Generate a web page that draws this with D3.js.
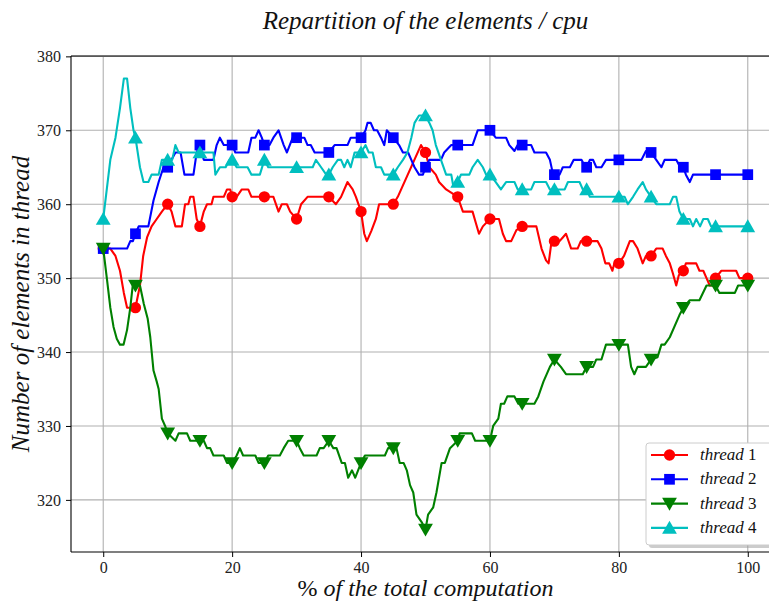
<!DOCTYPE html>
<html lang="en">
<head>
<meta charset="UTF-8">
<title>Repartition of the elements / cpu</title>
<style>
  body { margin: 0; background: #fff; }
  svg { display: block; font-family: "Liberation Serif", "DejaVu Serif", serif; }
  svg text { font-family: "Liberation Serif", "DejaVu Serif", serif; }
</style>
</head>
<body>
<svg width="769" height="602" id="svg"></svg>
<script src="https://d3js.org/d3.v7.min.js"></script>
<script>
// thread 1 (red, circles)
const t1x = [0, 1.1, 1.9, 2.6, 3.2, 3.7, 4.4, 5, 5.7, 6.2, 6.8, 7.5, 8.3, 9.1, 10, 10.6, 11.2, 12.2, 12.7, 13.2, 13.5, 14, 14.5, 15,
  15.6, 16.1, 16.8, 17.1, 18.7, 19.2, 19.7, 20, 20.7, 21.5, 22.5, 23, 24.3, 25, 26.4, 27.2, 27.7, 28.5, 29, 30,
  30.7, 31.7, 34.1, 35, 36.1, 36.9, 37.9, 38.7, 39.2, 40, 40.5, 40.9, 41.6, 42.3, 42.8, 44.4, 45, 45.7, 49.3, 50,
  50.6, 51.6, 52.1, 53.2, 55, 55.8, 57.3, 57.8, 58.3, 58.9, 60, 61.4, 62, 62.5, 63.3, 64.1, 65, 67.2, 68, 68.7, 69.1, 69.5, 70,
  70.8, 71.3, 71.8, 72.6, 73.6, 74.1, 75, 76.7, 77.3, 77.9, 78.5, 79, 79.3, 80, 80.8, 81.7, 82.2, 82.9, 83.7, 84.2, 85,
  85.8, 86.8, 87.3, 87.9, 88.4, 88.9, 89.3, 90, 90.4, 92, 92.5, 93.1, 93.6, 94.1, 94.6, 95, 95.9, 98.2, 98.7, 100];
const t1y = [354, 354, 353, 351, 348, 346, 346, 346, 349, 353, 355.5, 357, 358, 359, 360, 359, 357, 357, 360, 360, 361, 361, 358, 357,
  359, 360, 360, 361, 361, 362, 362, 361, 361, 362, 362, 361, 361, 361, 361, 359, 360, 360, 359, 358,
  360, 361, 361, 361, 360, 361, 363, 362, 361, 359, 356, 355, 356.4, 358, 360, 360, 360, 361, 368, 367,
  365, 364, 363, 362, 361, 359, 359, 357.5, 356, 357, 358, 358, 356, 355, 355, 356.5, 357, 357, 354, 352.4, 352, 354.6, 355,
  355, 355.5, 356, 354, 354, 355, 355, 355, 354, 352, 352, 351, 352, 352, 353, 355, 355, 354, 352, 353, 353,
  354, 354, 353, 352, 350.6, 349, 350.4, 351, 352, 352, 351, 351, 350, 349, 349, 350, 351, 351, 350, 350];

// thread 2 (blue, squares)
const t2x = [0, 3.7, 4.2, 4.6, 5, 5.5, 7, 7.8, 8.6, 9.35, 10, 10.6, 11.2, 12, 12.6, 14, 14.5, 15, 15.6, 17.1, 17.6, 18.1, 18.7, 20,
  20.5, 22.5, 23, 23.6, 24.1, 24.6, 25, 25.8, 26.4, 27.2, 28, 28.5, 29.4, 30, 31.2, 31.7, 32.2, 32.8, 34.4, 35,
  35.9, 37.9, 38.4, 40, 40.7, 41, 41.5, 42, 42.5, 43.1, 43.6, 44, 45, 45.9, 46.5, 47.3, 47.8, 48.3, 49, 49.6, 50,
  50.6, 52.4, 52.9, 54, 55, 57.3, 58.1, 60, 60.9, 62.5, 63, 63.8, 64.3, 65, 66.4, 66.9, 68.7, 69.3, 69.8, 70,
  70.8, 71.3, 72.4, 73, 74.2, 74.7, 75, 75.5, 76, 76.5, 77.3, 78, 80, 83.5, 84.2, 85, 85.8, 86.6, 87.1, 88.9, 89.4, 90,
  90.4, 91, 91.5, 95, 100];
const t2y = [354, 354, 355, 355, 356, 357, 357, 360.5, 363, 365, 365, 366, 367, 367, 364, 364, 367, 368, 366, 366, 368, 369, 368, 368,
  367, 367, 369, 369, 370, 369, 368, 368, 369, 370, 368, 367, 369, 369, 369, 368, 368, 367, 367, 367,
  368, 368, 369, 369, 370, 371, 371, 370, 370, 369, 368, 370, 369, 368, 367, 367, 366, 365, 364, 364, 365,
  366, 366, 367, 368, 368, 368, 370, 370, 369, 369, 368, 367.2, 368, 368, 368, 367, 367, 366, 364, 364,
  364, 365, 365, 366, 366, 365.2, 365, 366, 366, 365, 365, 366, 366, 366, 367.2, 367, 366, 365, 366, 366, 365.2, 365,
  364, 363, 364, 364, 364];

// thread 3 (green, down triangles)
const t3x = [0, 0.6, 1.1, 1.6, 2.1, 2.6, 3.15, 3.7, 4.2, 4.6, 5, 5.7, 6.3, 6.9, 7.3, 7.8, 8.3, 8.6, 9.1, 9.6, 10, 10.6, 11.2, 11.7,
  13, 13.5, 15, 15.6, 16.1, 16.6, 17.1, 18.7, 19.2, 20, 20.7, 21.2, 21.7, 23.6, 24.1, 25, 25.6, 27.4, 28, 28.7, 30,
  30.5, 31.1, 33.1, 33.6, 34.2, 35, 35.7, 36.2, 37, 37.5, 38, 38.6, 39.1, 40, 40.6, 43.7, 44.2, 45, 45.5, 46, 46.6,
  47.1, 47.6, 48.1, 48.6, 49.4, 50, 50.4, 51.2, 51.7, 52.5, 53, 53.8, 55, 55.3, 57.2, 57.7, 60, 60.5, 61.3, 61.7,
  62.2, 62.7, 63.8, 64.4, 65, 66.9, 67.5, 68.3, 69.3, 70, 71, 71.8, 74.4, 75, 76, 76.5, 77.3, 78, 80, 81.4, 81.9,
  82.4, 82.9, 84.2, 85, 86, 86.6, 87.1, 87.9, 89.4, 90, 91, 92.5, 93.6, 95, 95.6, 98, 98.5, 100];
const t3y = [354, 349.7, 346, 343.4, 341.8, 341, 341, 343, 346, 349.2, 349, 349, 346.5, 344.5, 342, 337.5, 336, 335, 331, 330, 329, 328.5, 328, 329,
  329, 328, 328, 328, 327, 327, 326, 326, 325, 325, 326, 327, 326, 326, 325, 325, 326, 326, 327, 328, 328,
  327, 326, 326, 327, 327, 328, 327, 327, 325, 325, 323, 324, 323, 325, 326, 326, 327, 327, 327, 325, 325,
  324, 322, 321, 318, 317, 316, 318, 319, 321, 325, 325, 327, 328, 329, 329, 328, 328, 330, 331, 333,
  333, 334, 334, 333, 333, 333, 334, 336, 338, 339, 338, 337, 337, 338, 338, 339, 339, 341, 341, 341, 338,
  337, 338, 338, 339, 339.3, 341, 341, 342, 345, 346, 347, 347, 349, 349, 348, 348, 349, 349];

// thread 4 (cyan, up triangles)
const t4x = [0, 1.1, 1.9, 2.6, 3.2, 3.7, 4.2, 4.7, 5, 5.7, 6.25, 7, 7.5, 8.6, 9.1, 10, 10.7, 11.2, 11.7, 15, 17.1, 17.4, 18.1, 19, 19.6, 20,
  20.7, 22.4, 23, 24.3, 25, 25.6, 29.5, 30, 32.5, 33, 33.8, 34.6, 35, 35.6, 36.4, 36.9, 37.4, 37.9, 38.4, 39, 40,
  40.7, 41.2, 41.8, 42.3, 43.1, 43.6, 45, 45.7, 46.5, 47.2, 47.8, 48.3, 49, 50, 50.6, 51.1, 51.6, 52.4, 53.2, 54, 54.3, 55,
  55.5, 56.8, 57.3, 58.1, 58.9, 59.4, 60, 60.9, 61.7, 62.5, 63.8, 64.3, 65, 66.4, 66.9, 68.7, 69.3, 70, 71.6, 72.1, 73.9, 74.4, 75,
  75.5, 80, 80.9, 81.4, 82.2, 82.9, 83.7, 84.2, 85, 85.8, 87.9, 88.4, 88.9, 89.4, 90, 91, 91.5, 92, 92.6, 93.1, 93.8, 94.3, 95, 100];
const t4y = [358, 366, 369, 373, 377, 377, 373, 370, 369, 365, 363, 363, 364, 364, 366, 366, 366, 368, 367, 367, 367, 364, 365, 365, 366, 366,
  365, 365, 364, 364, 366, 365, 365, 365, 365, 366, 365, 364, 364, 365, 366, 366, 365, 366, 365, 367, 367,
  368, 367, 367, 365, 365, 364, 364, 365, 366, 367, 369, 371, 372, 372, 371, 370, 368, 366, 364, 364, 362.5, 363,
  364, 364, 365, 366, 365, 364, 364, 363, 362, 363, 363, 362, 362, 362, 363, 363, 362, 362, 362, 363, 363, 362, 362,
  361, 361, 361, 360, 361, 362, 363, 362, 361, 360, 360, 361, 361, 359, 358, 358, 357, 358, 357, 358, 358, 357, 357, 357];

const xTicks = [0, 20, 40, 60, 80, 100];
const yTicks = [320, 330, 340, 350, 360, 370, 380];
const threadNames = ["thread 1", "thread 2", "thread 3", "thread 4"];

const series = [
  { name: threadNames[0], xs: t1x, ys: t1y, color: "#ff0000", marker: "circle" },
  { name: threadNames[1], xs: t2x, ys: t2y, color: "#0000ff", marker: "square" },
  { name: threadNames[2], xs: t3x, ys: t3y, color: "#008000", marker: "down" },
  { name: threadNames[3], xs: t4x, ys: t4y, color: "#00bfbf", marker: "up" }
];

const svg = d3.select("svg#svg");
const plot = { left: 71, right: 780, top: 56, bottom: 552 };

const xScale = d3.scaleLinear().domain([-5, 105]).range([plot.left, plot.right]);
const yScale = d3.scaleLinear().domain([312.95, 380.05]).range([plot.bottom, plot.top]);

// grid
const grid = svg.append("g");
grid.selectAll("line.gx").data(xTicks).join("line")
  .attr("x1", d => xScale(d)).attr("x2", d => xScale(d))
  .attr("y1", plot.top).attr("y2", plot.bottom)
  .attr("stroke", "#b0b0b0").attr("stroke-width", 1.1);
grid.selectAll("line.gy").data(yTicks).join("line")
  .attr("y1", d => yScale(d)).attr("y2", d => yScale(d))
  .attr("x1", plot.left).attr("x2", plot.right)
  .attr("stroke", "#b0b0b0").attr("stroke-width", 1.1);

// axes
const xAxis = d3.axisBottom(xScale).tickValues(xTicks).tickSize(5).tickPadding(5);
const yAxis = d3.axisLeft(yScale).tickValues(yTicks).tickSize(5).tickPadding(5);
const gx = svg.append("g").attr("transform", `translate(0,${plot.bottom})`).call(xAxis);
const gy = svg.append("g").attr("transform", `translate(${plot.left},0)`).call(yAxis);
[gx, gy].forEach(g => {
  g.attr("font-family", null);
  g.select(".domain").remove();
  g.selectAll(".tick line").attr("stroke", "#000").attr("stroke-width", 1);
  g.selectAll(".tick text")
    .style("font-family", "'Liberation Serif', 'DejaVu Serif', serif")
    .style("font-size", "16px").attr("fill", "#222");
});

// lines + markers
const line = d3.line().x(d => xScale(d[0])).y(d => yScale(d[1]));
const sym = {
  circle: d3.symbolCircle, square: d3.symbolSquare, up: d3.symbolTriangle, down: d3.symbolTriangle
};
function drawMarker(g, s, x, y) {
  const size = s.marker === "circle" ? 100 : s.marker === "square" ? 115 : 95;
  const rot = s.marker === "down" ? 180 : 0;
  const dy = s.marker === "up" ? 1.5 : s.marker === "down" ? -1.5 : 0;
  g.append("path")
    .attr("d", d3.symbol().type(sym[s.marker]).size(size)())
    .attr("transform", `translate(${x},${y + dy}) rotate(${rot})`)
    .attr("fill", s.color);
}

const plotG = svg.append("g");
series.forEach(s => {
  const pts = s.xs.map((x, i) => [x, s.ys[i]]);
  plotG.append("path").datum(pts)
    .attr("d", line).attr("fill", "none")
    .attr("stroke", s.color).attr("stroke-width", 2.1)
    .attr("stroke-linejoin", "round");
  pts.filter(p => p[0] % 5 === 0).forEach(p => drawMarker(plotG, s, xScale(p[0]), yScale(p[1])));
});

// spines
svg.append("line").attr("x1", plot.left).attr("x2", plot.left).attr("y1", plot.top).attr("y2", plot.bottom)
  .attr("stroke", "#000").attr("stroke-width", 1.1);
svg.append("line").attr("x1", plot.left).attr("x2", plot.right).attr("y1", plot.bottom).attr("y2", plot.bottom)
  .attr("stroke", "#000").attr("stroke-width", 1.1);
svg.append("line").attr("x1", plot.left).attr("x2", plot.right).attr("y1", plot.top).attr("y2", plot.top)
  .attr("stroke", "#000").attr("stroke-width", 1.1);

// legend
const lg = svg.append("g").attr("transform", "translate(646,443)");
lg.append("rect").attr("x", 3).attr("y", 3).attr("width", 128).attr("height", 102).attr("rx", 3)
  .attr("fill", "#999").attr("opacity", 0.5);
lg.append("rect").attr("width", 128).attr("height", 102).attr("rx", 3)
  .attr("fill", "#fff").attr("stroke", "#ccc").attr("stroke-width", 1);
series.forEach((s, i) => {
  const cy = 12 + i * 24.3;
  lg.append("line").attr("x1", 5).attr("x2", 42).attr("y1", cy).attr("y2", cy)
    .attr("stroke", s.color).attr("stroke-width", 2.1);
  drawMarker(lg, s, 23.5, cy);
  const t = lg.append("text").attr("x", 54).attr("y", cy + 5)
    .attr("font-size", 17).attr("fill", "#111");
  const parts = s.name.split(" ");
  t.append("tspan").attr("font-style", "italic").text(parts[0]);
  t.append("tspan").text(" " + parts[1]);
});

// title and labels
svg.append("text").attr("x", (plot.left + plot.right) / 2).attr("y", 29)
  .attr("text-anchor", "middle").attr("font-size", 25).attr("font-style", "italic")
  .attr("fill", "#111").text("Repartition of the elements / cpu");

const xl = svg.append("text").attr("x", (plot.left + plot.right) / 2).attr("y", 596)
  .attr("text-anchor", "middle").attr("font-size", 24).attr("fill", "#111");
xl.append("tspan").text("% ");
xl.append("tspan").attr("font-style", "italic").text("of the total computation");

svg.append("text").attr("transform", `translate(29,${(plot.top + plot.bottom) / 2}) rotate(-90)`)
  .attr("text-anchor", "middle").attr("font-size", 25).attr("font-style", "italic")
  .attr("fill", "#111").text("Number of elements in thread");
</script>
</body>
</html>
